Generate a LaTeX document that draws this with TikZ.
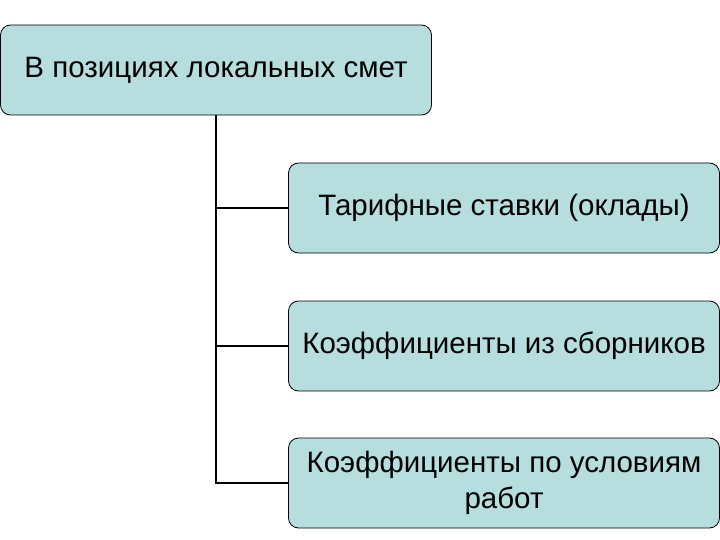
\documentclass[tikz,border=0pt]{standalone}
\usepackage{fontspec}
\setmainfont{Liberation Sans}
\definecolor{boxfill}{RGB}{182,222,222}
\begin{document}
\begin{tikzpicture}[x=1pt,y=-1pt,
  box/.style={draw=black,line width=0.8pt,fill=boxfill,rounded corners=10pt,minimum width=431pt,minimum height=90pt,align=center,font=\fontsize{29.5}{36}\selectfont,inner sep=2pt},
  conn/.style={line width=1.5pt}]
\useasboundingbox (0,0) rectangle (720,540);
\node[box] (top) at (216,70) {В позициях локальных смет};
\node[box] (a) at (504,208) {Тарифные ставки (оклады)};
\node[box] (b) at (504,346) {Коэффициенты из сборников};
\node[box] (c) at (504,483) {Коэффициенты по условиям\\работ};
\coordinate (v1) at (216,208);
\coordinate (v2) at (216,346);
\coordinate (v3) at (216,483);
\draw[conn] (top.south) -- (v3) -- (c.west);
\draw[conn] (v1) -- (a.west);
\draw[conn] (v2) -- (b.west);
\end{tikzpicture}
\end{document}
